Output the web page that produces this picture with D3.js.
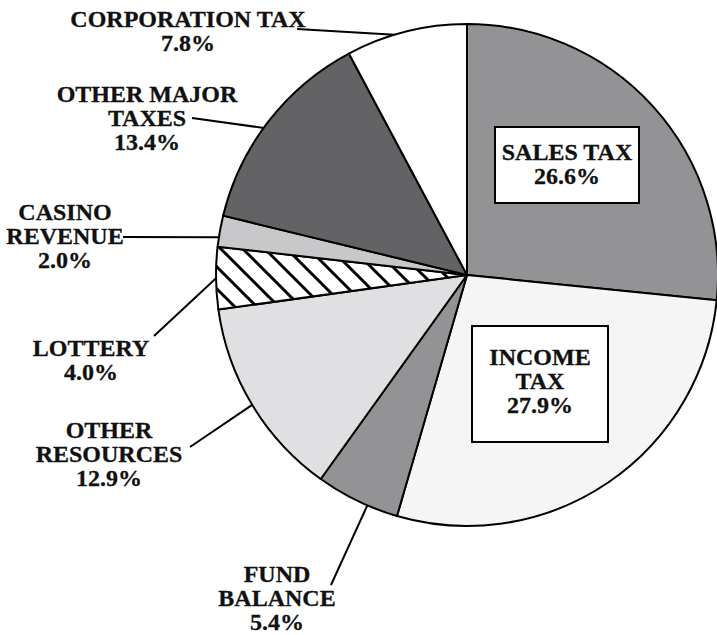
<!DOCTYPE html>
<html>
<head>
<meta charset="utf-8">
<script src="https://cdn.jsdelivr.net/npm/d3@7"></script>
<style>
  body { margin: 0; background: #fff; }
  svg text { font-family: "Liberation Serif", serif; font-weight: bold; fill: #111; stroke: #111; stroke-width: 0.3px; }
</style>
</head>
<body>
<svg id="chart" width="717" height="635"></svg>
<script>
// slices, clockwise from 12 o'clock
const categories = ["SALES TAX", "INCOME TAX", "FUND BALANCE", "OTHER RESOURCES", "LOTTERY", "CASINO REVENUE", "OTHER MAJOR TAXES", "CORPORATION TAX"];
const shares = [26.6, 27.9, 5.4, 12.9, 4.0, 2.0, 13.4, 7.8];
const labelLines = [
  ["SALES TAX"],
  ["INCOME", "TAX"],
  ["FUND", "BALANCE"],
  ["OTHER", "RESOURCES"],
  ["LOTTERY"],
  ["CASINO", "REVENUE"],
  ["OTHER MAJOR", "TAXES"],
  ["CORPORATION TAX"]
];
const fills = ["#939396", "#f5f5f5", "#939396", "#e0e0e2", "url(#hatch)", "#c8c8ca", "#636365", "#ffffff"];

// label layout: boxed labels inside, or text + leader outside
const layout = [
  { box: [495, 127, 144, 76], x: 567, y: 160 },
  { box: [472, 326, 136, 116], x: 540, y: 365 },
  { x: 277, y: 582, lead: [331, 585], at: 0.37 },
  { x: 109, y: 438, lead: [190, 447], at: 0.5 },
  { x: 91, y: 356, lead: [154, 336], at: 0.5 },
  { x: 65, y: 220, lead: [123, 237], at: 0.3 },
  { x: 147, y: 102, lead: [192, 118], at: 0.46 },
  { x: 188, y: 27, lead: [297, 29], at: 0.4 }
];

const cx = 467, cy = 275, radius = 251, lineH = 24;

const svg = d3.select("#chart");

const defs = svg.append("defs");
const pat = defs.append("pattern")
  .attr("id", "hatch")
  .attr("patternUnits", "userSpaceOnUse")
  .attr("width", 22).attr("height", 22);
pat.append("rect").attr("width", 22).attr("height", 22).attr("fill", "#fff");
pat.append("path")
  .attr("d", "M0,0L22,22M-11,11L11,33M11,-11L33,11")
  .attr("stroke", "#000").attr("stroke-width", 3);

const pie = d3.pie().sort(null).value(d => d);
const arcs = pie(shares);
const arc = d3.arc().innerRadius(0).outerRadius(radius);

const g = svg.append("g").attr("transform", `translate(${cx},${cy})`);

g.selectAll("path.slice")
  .data(arcs)
  .enter()
  .append("path")
  .attr("class", "slice")
  .attr("d", arc)
  .attr("fill", (d, i) => fills[i])
  .attr("stroke", "#000")
  .attr("stroke-width", 2)
  .attr("stroke-linejoin", "round");

// leaders
arcs.forEach((d, i) => {
  const L = layout[i];
  if (!L.lead) return;
  const a = d.startAngle + (d.endAngle - d.startAngle) * L.at;
  const px = cx + radius * Math.sin(a);
  const py = cy - radius * Math.cos(a);
  svg.append("line")
    .attr("x1", L.lead[0]).attr("y1", L.lead[1])
    .attr("x2", px).attr("y2", py)
    .attr("stroke", "#000")
    .attr("stroke-width", 2);
});

// labels
arcs.forEach((d, i) => {
  const L = layout[i];
  if (L.box) {
    svg.append("rect")
      .attr("x", L.box[0]).attr("y", L.box[1])
      .attr("width", L.box[2]).attr("height", L.box[3])
      .attr("fill", "#fff")
      .attr("stroke", "#000")
      .attr("stroke-width", 2);
  }
  const lines = labelLines[i].concat([shares[i].toFixed(1) + "%"]);
  const t = svg.append("text")
    .attr("text-anchor", "middle")
    .style("font-size", "24px");
  lines.forEach((s, k) => {
    t.append("tspan")
      .attr("x", L.x)
      .attr("y", L.y + k * lineH)
      .text(s);
  });
});
</script>
</body>
</html>
